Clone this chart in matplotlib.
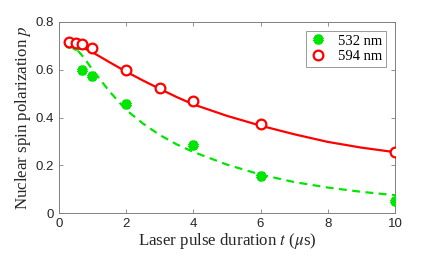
import matplotlib
matplotlib.use("Agg")
import matplotlib.pyplot as plt

# measured data
t_532 = [0.3, 0.5, 0.7, 1, 2, 4, 6, 10]
p_532 = [0.712, 0.705, 0.597, 0.572, 0.455, 0.283, 0.157, 0.050]
t_594 = [0.3, 0.5, 0.7, 1, 2, 3, 4, 6, 10]
p_594 = [0.717, 0.713, 0.707, 0.690, 0.597, 0.524, 0.469, 0.373, 0.256]

# fitted curves
tfit = [0.3, 0.5, 0.75, 1, 1.5, 2, 2.5, 3, 3.5, 4, 5, 6, 7, 8, 9, 10]
fit_532 = [0.720, 0.690, 0.650, 0.600, 0.510, 0.432, 0.375, 0.327, 0.288, 0.256,
           0.203, 0.161, 0.130, 0.107, 0.089, 0.075]
fit_594 = [0.717, 0.705, 0.690, 0.673, 0.632, 0.592, 0.555, 0.520, 0.486, 0.455,
           0.407, 0.366, 0.330, 0.298, 0.274, 0.255]

xticks = [0, 2, 4, 6, 8, 10]
yticks = [0, 0.2, 0.4, 0.6, 0.8]
ytick_labels = ["0", "0.2", "0.4", "0.6", "0.8"]

plt.rcParams['mathtext.fontset'] = 'stix'

fig = plt.figure(figsize=(4.36, 2.58), dpi=100)
ax = fig.add_axes([0.135, 0.174, 0.771, 0.741])

green = '#00e600'
ax.plot(tfit, fit_532, color=green, lw=1.6, ls=(0, (3.5, 2.5)), zorder=2)
ax.plot(tfit, fit_594, color='#ff0000', lw=1.6, zorder=2)
ax.plot(t_532, p_532, ls='none', marker=(6, 2, 0), ms=7, mew=3.0,
        color=green, label='532 nm', zorder=3)
ax.plot(t_594, p_594, ls='none', marker='o', ms=7, mew=1.6,
        mfc='white', mec='#ff0000', label='594 nm', zorder=3)

ax.set_xlim(0, 10)
ax.set_ylim(0, 0.8)
ax.set_xticks(xticks)
ax.set_yticks(yticks)
ax.set_yticklabels(ytick_labels)
ax.tick_params(direction='in', top=True, right=True, length=3, width=0.6,
               colors='#808080', labelcolor='#262626', labelsize=9.5)
for lab in ax.get_xticklabels() + ax.get_yticklabels():
    lab.set_family('Liberation Sans')
for s in ax.spines.values():
    s.set_color('#808080')
    s.set_linewidth(0.7)

ax.set_xlabel(r'Laser pulse duration $t$ ($\mu$s)', family='Liberation Serif',
              fontsize=12.2, color='#262626', labelpad=1)
ax.set_ylabel(r'Nuclear spin polarization $p$', family='Liberation Serif',
              fontsize=12.2, color='#262626', labelpad=2)

leg = ax.legend(loc='upper right', prop={'family': 'Liberation Serif', 'size': 10.5},
                frameon=True, fancybox=False, edgecolor='#808080',
                borderaxespad=0.6, handlelength=1.2, handletextpad=0.8,
                borderpad=0.25, labelspacing=0.15)
leg.get_frame().set_linewidth(0.7)

fig.savefig('out.png', dpi=100)
